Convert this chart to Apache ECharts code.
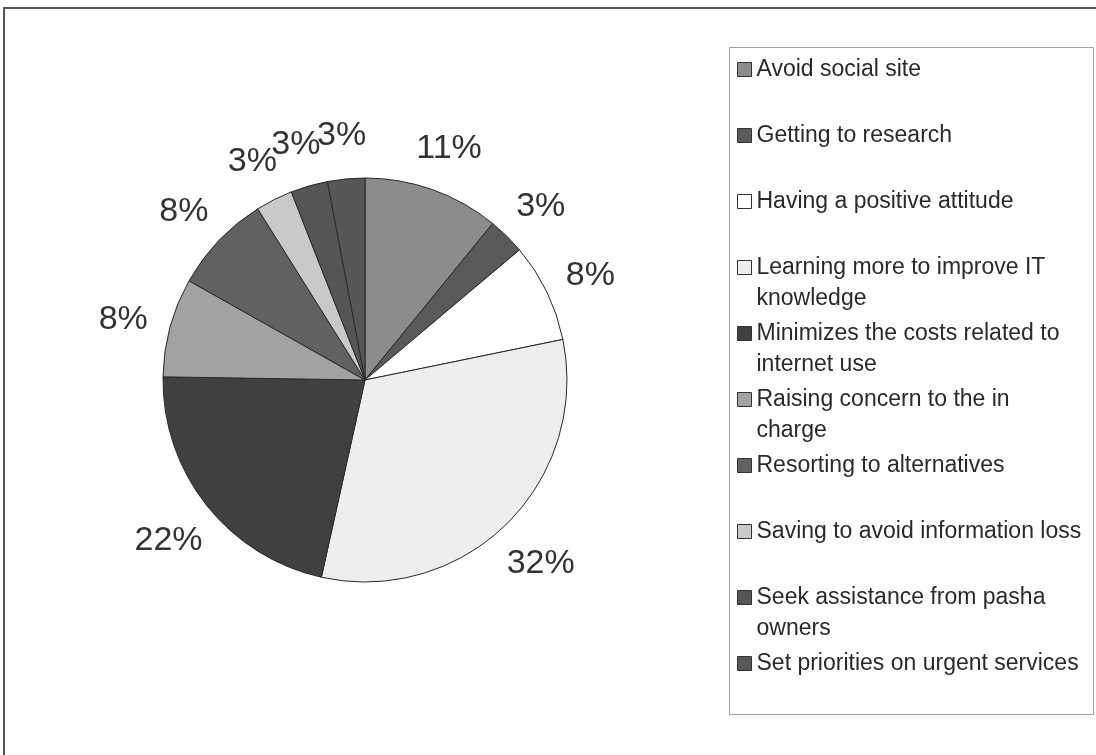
<!DOCTYPE html>
<html>
<head>
<meta charset="utf-8">
<script src="https://cdn.jsdelivr.net/npm/echarts@6/dist/echarts.min.js"></script>
<style>
  html, body { margin: 0; padding: 0; background: #ffffff; }
  #chart { width: 1096px; height: 755px; }
</style>
</head>
<body>
<div id="chart"></div>
<script>
// Responses (share of respondents, %) — category names carry their legend line breaks
const categories = [
  'Avoid social site',
  'Getting to research',
  'Having a positive attitude',
  'Learning more to improve IT\nknowledge',
  'Minimizes the costs related to\ninternet use',
  'Raising concern to the in\ncharge',
  'Resorting to alternatives',
  'Saving to avoid information loss',
  'Seek assistance from pasha\nowners',
  'Set priorities on urgent services'
];
const percentages = [11, 3, 8, 32, 22, 8, 8, 3, 3, 3];

const FONT = '"Liberation Sans", Arial, Helvetica, sans-serif';
const PIE_CENTER = [365, 380];
const PIE_RADIUS = 202;
const LEGEND_LINE = 31;

const pieData = categories.map((name, i) => ({ name: name, value: percentages[i] }));
const isTwoLine = name => name.indexOf('\n') >= 0;

const chart = echarts.init(document.getElementById('chart'), null, { renderer: 'canvas' });

chart.setOption({
  animation: false,
  backgroundColor: '#ffffff',
  color: ['#8c8c8c', '#5a5a5a', '#ffffff', '#eeeeee', '#404040',
          '#a2a2a2', '#616161', '#c9c9c9', '#555555', '#575757'],
  textStyle: { fontFamily: FONT },
  graphic: [
    // outer frame (left and top edges visible)
    {
      type: 'polyline', silent: true,
      shape: { points: [[4, 760], [4, 8], [1100, 8]] },
      style: { stroke: '#555555', lineWidth: 2, fill: null }
    },
    // legend frame
    {
      type: 'rect', silent: true,
      shape: { x: 729.5, y: 47.5, width: 364, height: 667 },
      style: { stroke: '#a0a0a0', lineWidth: 1, fill: null }
    }
  ],
  legend: {
    orient: 'vertical',
    left: 737,
    top: 23,
    padding: 0,
    itemGap: -27,
    itemWidth: 14,
    itemHeight: 14,
    icon: 'rect',
    selectedMode: false,
    itemStyle: { borderColor: '#333333', borderWidth: 1 },
    textStyle: { fontFamily: FONT, fontSize: 23, lineHeight: LEGEND_LINE, color: '#2a2a2a' },
    // two-line entries get an empty leading line so the swatch sits on their first line;
    // one-line entries are padded to the same box height, giving a regular step
    formatter: name => (isTwoLine(name) ? '\n' + name : name),
    data: categories.map(name => ({
      name: name,
      textStyle: {
        padding: isTwoLine(name) ? 0 : [LEGEND_LINE, 0, LEGEND_LINE, 0]
      }
    }))
  },
  series: [
    {
      name: 'slices',
      type: 'pie',
      center: PIE_CENTER,
      radius: PIE_RADIUS,
      startAngle: 90,
      clockwise: true,
      avoidLabelOverlap: false,
      data: pieData,
      itemStyle: { borderColor: '#2a2a2a', borderWidth: 1 },
      label: { show: false },
      labelLine: { show: false },
      emphasis: { disabled: true }
    },
    {
      // transparent ring used only to place the percentage labels beyond the rim
      name: 'labels',
      type: 'pie',
      center: PIE_CENTER,
      radius: [0, PIE_RADIUS * 2.45],
      startAngle: 90,
      clockwise: true,
      silent: true,
      avoidLabelOverlap: false,
      data: pieData,
      itemStyle: { color: 'rgba(0,0,0,0)', borderWidth: 0 },
      label: {
        show: true,
        position: 'inside',
        formatter: p => p.value + '%',
        fontFamily: FONT,
        fontSize: 34,
        color: '#333333',
        offset: [0, 5]
      },
      labelLayout: { hideOverlap: false, moveOverlap: null },
      labelLine: { show: false },
      emphasis: { disabled: true }
    }
  ]
});
</script>
</body>
</html>
